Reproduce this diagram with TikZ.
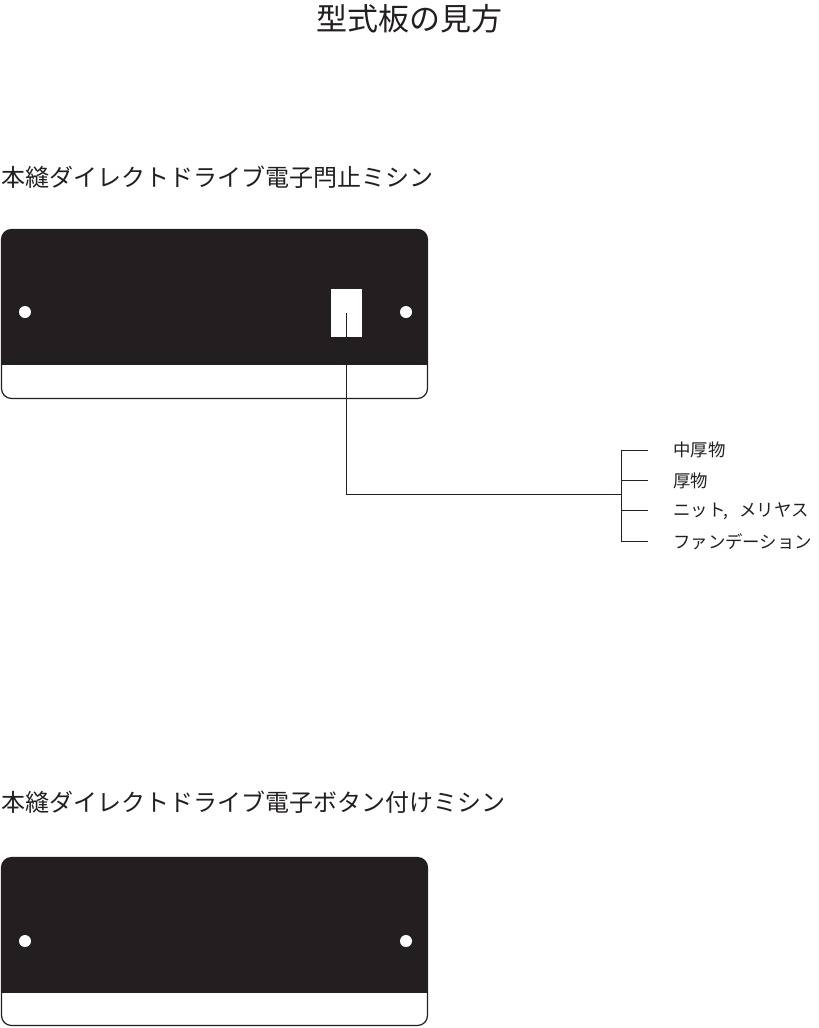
\documentclass[tikz,border=0pt]{standalone}
\usepackage{fontspec}
\newfontfamily\jp{Noto Sans CJK JP}
\definecolor{ink}{HTML}{231F20}
\begin{document}
\begin{tikzpicture}[x=1pt,y=-1pt,
  plate/.style={draw=ink,line width=1.2pt,rounded corners=10pt},
  hole/.style={fill=white,draw=none},
  lead/.style={draw=ink,line width=0.7pt},
  lbl/.style={anchor=west,inner sep=0pt,font=\jp\fontsize{17.4}{17.4}\selectfont,text=ink},
  head/.style={anchor=west,inner sep=0pt,font=\jp\fontsize{24}{24}\selectfont,text=ink}]
\useasboundingbox (0,0) rectangle (819,1028);
% title
\node[inner sep=0pt,font=\jp\fontsize{31}{31}\selectfont,text=ink] (title) at (409,19) {型式板の見方};
% plate 1
\node[head] (h1) at (1,177) {本縫ダイレクトドライブ電子閂止ミシン};
\begin{scope}
\clip[rounded corners=10pt] (1.5,229.5) rectangle (427.5,398.5);
\fill[ink] (0,228) rectangle (430,365);
\end{scope}
\draw[plate] (1.5,229.5) rectangle (427.5,398.5);
\fill[hole] (25,312) circle (6);
\fill[hole] (406,312) circle (6);
\node[fill=white,minimum width=31pt,minimum height=48pt,inner sep=0pt] (sq) at (346.5,313) {};
\coordinate (bend) at (346.5,494);
\coordinate (br) at (621,494);
\draw[lead] (sq.center) -- (bend) -- (br);
\draw[lead] (621,450) -- (621,541);
\node[lbl] (l1) at (673,450) {中厚物};
\node[lbl] (l2) at (673,481) {厚物};
\node[lbl] (l3) at (673,511) {ニット\hspace{-2pt},\hspace{11pt}メリヤス};
\node[lbl] (l4) at (673,542) {ファンデーション};
\draw[lead] (621,450) -- (648,450);
\draw[lead] (621,480) -- (648,480);
\draw[lead] (621,510.5) -- (648,510.5);
\draw[lead] (621,541) -- (648,541);
% plate 2
\node[head] (h2) at (1,802) {本縫ダイレクトドライブ電子ボタン付けミシン};
\begin{scope}
\clip[rounded corners=10pt] (1.5,857.5) rectangle (427.5,1025.5);
\fill[ink] (0,856) rectangle (430,993);
\end{scope}
\draw[plate] (1.5,857.5) rectangle (427.5,1025.5);
\fill[hole] (25,941) circle (6);
\fill[hole] (406,941) circle (6);
\end{tikzpicture}
\end{document}
